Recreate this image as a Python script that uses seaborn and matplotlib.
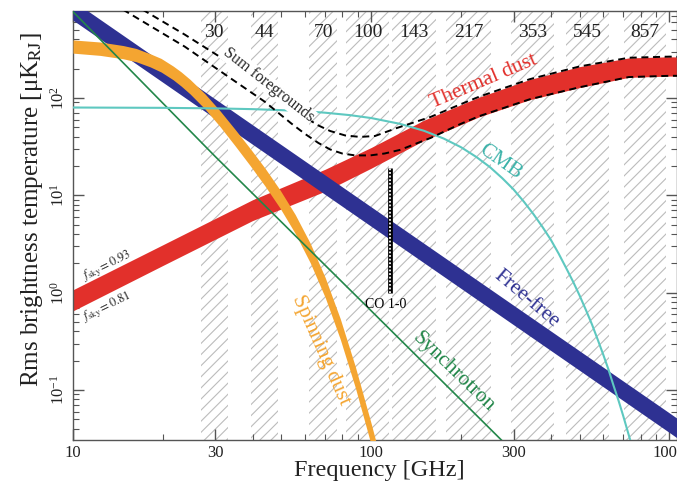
import matplotlib
matplotlib.use('Agg')
import matplotlib.pyplot as plt
from matplotlib.ticker import FixedLocator, FixedFormatter, NullFormatter, LogLocator, LogFormatterMathtext
import numpy as np
import pandas as pd
import seaborn as sns

# ---------------- data ----------------
band_names = ['30', '44', '70', '100', '143', '217', '353', '545', '857']
band_lo = [26.8, 39.4, 62.0, 82.5, 117.5, 178, 294, 449, 702]
band_hi = [33.0, 48.5, 77.0, 115.0, 165.0, 252, 409, 625, 977]

dust_freq = [10, 20, 40, 70, 100, 150, 230, 340, 500, 730, 1000, 1060]
dust_hi = [1.07, 3.1, 9.0, 18.5, 31, 59, 102, 155, 210, 258, 265, 264]
dust_lo = [0.65, 1.9, 5.5, 11, 19, 36.5, 64, 96, 128, 163, 168, 168]

ff_freq = [10, 100, 1000, 1060]
ff_hi = [1000, 7.6, 0.058, 0.0512]
ff_lo = [630, 4.8, 0.0365, 0.0322]

sync_freq = [10, 30, 100, 300]
sync_val = [770, 25, 0.65, 0.023]

spin_freq = [10, 12.32, 14.72, 16.27, 18.13, 19.74, 21.66, 23.04, 24.70, 27.73, 31.14, 34.97, 39.26,
             44.09, 49.50, 55.59, 62.42, 70.09, 78.71, 88.38, 100.0, 107.2]
spin_hi = [395, 376, 346, 323, 285, 255, 213, 185.5, 155, 110, 73.6, 47.5, 30.3,
           18.9, 11.3, 6.35, 3.22, 1.428, 0.541, 0.175, 0.0450, 0.0200]
spin_lo = [289, 274, 253, 236, 209, 185, 154, 132.7, 110, 76.9, 50.7, 32.2, 20.2,
           12.4, 7.36, 4.06, 2.03, 0.891, 0.333, 0.1064, 0.0271, 0.0120]

cmb_freq = [10, 20, 30, 40, 50, 60, 70, 85, 100, 125, 150, 175, 200, 225, 250, 275, 300, 325, 350,
            375, 400, 425, 450, 475, 500, 525, 550, 575, 600, 625, 650, 675, 700, 725, 750, 775]
cmb_val = [79.8, 79.2, 78.2, 76.8, 75.0, 73.0, 70.6, 66.6, 62.2, 54.2, 46.1, 38.3, 31.2, 24.8, 19.5,
           15.0, 11.5, 8.6, 6.4, 4.74, 3.5, 2.52, 1.8, 1.30, 0.93, 0.66, 0.47, 0.328, 0.23, 0.161,
           0.11, 0.0777, 0.054, 0.0372, 0.026, 0.0176]

sum_hi_freq = [17.1, 23.7, 31.0, 42.2, 50.0, 57.8, 65.9, 72.8, 81.8, 91.8, 103, 122, 158, 199,
               230, 340, 500, 730, 1000, 1060]
sum_hi = [810, 448, 266, 134, 95, 68.6, 52.9, 45.8, 41.2, 39.8, 40.7, 49.2, 63.8, 86,
          103, 156, 211, 259, 266, 265]
sum_lo_freq = [14.7, 23.7, 33.5, 43.9, 54.0, 60.0, 66.5, 72.8, 79.9, 88.3, 99.2, 111, 125, 158, 199,
               230, 340, 500, 730, 1000, 1060]
sum_lo = [810, 337, 162, 91.8, 54.6, 42.7, 34.5, 29.6, 26.9, 25.7, 25.7, 26.9, 29.3, 38.8, 54,
          65, 97, 129, 164, 169, 169]

co_freq = 115.27
co_range = [1.0, 19.0]

# ---------------- style ----------------
sns.set_theme(style='ticks')
plt.rcParams['font.family'] = ['Liberation Serif', 'DejaVu Serif']
plt.rcParams['mathtext.fontset'] = 'stix'
plt.rcParams['hatch.linewidth'] = 0.8

RED = '#e2302b'
BLUE = '#2e3192'
ORANGE = '#f4a531'
GREEN = '#23874a'
CYAN = '#5ec8c0'
SPINE = '#555555'

fig = plt.figure(figsize=(6.77, 4.88), dpi=100)
ax = fig.add_axes([73 / 677, 1 - 440 / 488, (677 - 73) / 677, (440 - 11) / 488])
ax.set_xscale('log')
ax.set_yscale('log')

# hatched Planck bands
for lo, hi in zip(band_lo, band_hi):
    ax.axvspan(lo, hi, facecolor='white', edgecolor='#bcbcbc', hatch='///', lw=0, zorder=0)
for name, lo, hi in zip(band_names, band_lo, band_hi):
    ax.text(np.sqrt(lo * hi), 0.951, name, transform=ax.get_xaxis_transform(),
            ha='center', va='center', fontsize=14, color='#222222', zorder=9)

# bands
ax.fill_between(dust_freq, dust_lo, dust_hi, color=RED, lw=0, zorder=2)
ax.fill_between(ff_freq, ff_lo, ff_hi, color=BLUE, lw=0, zorder=3)
ax.fill_between(spin_freq, spin_lo, spin_hi, color=ORANGE, lw=0, zorder=4)

# thin lines
df_sync = pd.DataFrame({'freq': sync_freq, 'T': sync_val})
df_cmb = pd.DataFrame({'freq': cmb_freq, 'T': cmb_val})
df_shi = pd.DataFrame({'freq': sum_hi_freq, 'T': sum_hi})
df_slo = pd.DataFrame({'freq': sum_lo_freq, 'T': sum_lo})
sns.lineplot(data=df_sync, x='freq', y='T', ax=ax, color=GREEN, lw=1.2, zorder=5, estimator=None)
sns.lineplot(data=df_cmb, x='freq', y='T', ax=ax, color=CYAN, lw=1.5, zorder=6, estimator=None)
for d in (df_shi, df_slo):
    sns.lineplot(data=d, x='freq', y='T', ax=ax, color='black', lw=1.4, zorder=7,
                 estimator=None, linestyle=(0, (3.6, 2.4)))

# CO line
ax.vlines(co_freq, co_range[0], co_range[1], color='black', lw=3.4, zorder=8)
ax.vlines(co_freq, co_range[0], co_range[1], color='white', lw=1.3, zorder=8.5,
          linestyles=[(0, (1.0, 1.0))])

# annotations
ax.text(45.1, 136, 'Sum foregrounds', rotation=-38, fontsize=11.5, ha='center', va='center',
        zorder=9, bbox=dict(facecolor='white', edgecolor='none', pad=0.6))
ax.text(238, 146, 'Thermal dust', rotation=23, fontsize=15.5, color=RED, ha='center', va='center', zorder=9)
ax.text(271, 22, 'CMB', rotation=-35, fontsize=15.5, color='#3db3aa', ha='center', va='center', zorder=9)
ax.text(331, 0.86, 'Free-free', rotation=-40, fontsize=15.5, color=BLUE, ha='center', va='center', zorder=9)
ax.text(188, 0.153, 'Synchrotron', rotation=-44, fontsize=15.5, color=GREEN, ha='center', va='center', zorder=9)
ax.text(67.5, 0.258, 'Spinning dust', rotation=-66, fontsize=15.5, color=ORANGE, ha='center', va='center', zorder=9)
ax.text(112, 0.748, 'CO 1-0', fontsize=10, color='black', ha='center', va='center', zorder=9)
ax.text(13.0, 1.88, r'$f_{\rm sky}=0.93$', rotation=26, fontsize=9, ha='center', va='center', zorder=9)
ax.text(13.0, 0.713, r'$f_{\rm sky}=0.81$', rotation=26, fontsize=9, ha='center', va='center', zorder=9)

# axes
ax.set_xlim(10, 1060)
ax.set_ylim(0.0306, 783)
ax.xaxis.set_major_locator(FixedLocator([10, 30, 100, 300, 1000]))
ax.xaxis.set_major_formatter(FixedFormatter(['10', '30', '100', '300', '1000']))
ax.xaxis.set_minor_locator(FixedLocator([20, 40, 50, 60, 70, 80, 90, 200, 400, 500, 600, 700, 800, 900]))
ax.xaxis.set_minor_formatter(NullFormatter())
ax.yaxis.set_major_locator(LogLocator(base=10))
ax.yaxis.set_major_formatter(LogFormatterMathtext())
ax.yaxis.set_minor_locator(LogLocator(base=10, subs=np.arange(2, 10)))
ax.yaxis.set_minor_formatter(NullFormatter())

ax.tick_params(which='both', direction='in', top=True, right=True, color=SPINE, labelcolor='#222222')
ax.tick_params(which='major', length=8, width=1.0, labelsize=12)
ax.tick_params(which='minor', length=4, width=0.8)
ax.tick_params(axis='y', labelrotation=90)
for s in ax.spines.values():
    s.set_color(SPINE)
    s.set_linewidth(1.0)

ax.set_xlabel('Frequency [GHz]', fontsize=17.5, color='#222222')
ax.set_ylabel('Rms brightness temperature [μK$_{\\rm RJ}$]', fontsize=18, color='#222222')
ax.xaxis.set_label_coords(0.507, -0.046)
ax.yaxis.set_label_coords(-0.046, 0.536)
plt.setp(ax.get_yticklabels(), va='center')

fig.savefig('out.png', dpi=100)
